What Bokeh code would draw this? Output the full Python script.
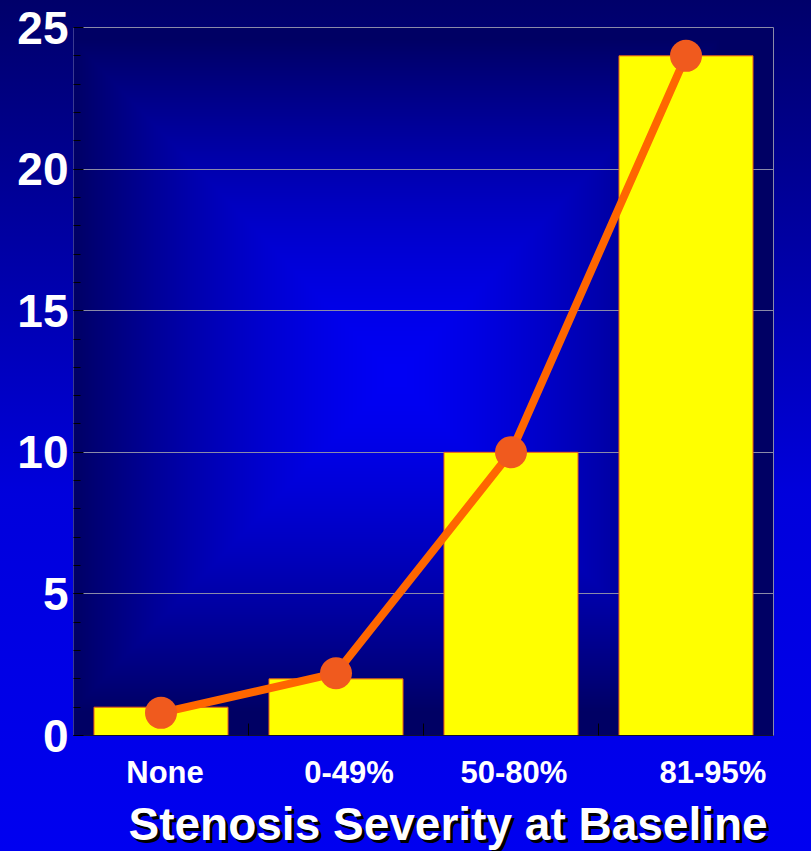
import numpy as np
from bokeh.plotting import figure
from bokeh.models import (Range1d, FixedTicker, SingleIntervalTicker, LinearAxis,
                          CustomJSTickFormatter, Label)
from bokeh.embed import file_html
from bokeh.resources import INLINE

# ---- data ----
categories = ["None", "0-49%", "50-80%", "81-95%"]
bar_values = [1, 2, 10, 24]
line_values = [0.8, 2.2, 10, 24]
y_ticks = [0, 5, 10, 15, 20, 25]

# ---- styling ----
FONT = "Liberation Sans"
BAR_WIDTH = 0.766
LABEL_NUDGE_PX = [4, 13, 3, 27]      # small horizontal shifts of category labels
TOP_PX = 27                          # room above the value area for the top tick label
PLOT_W, PLOT_H = 700, 708            # pixel size of the value area (0..4, 0..25)
BELOW_PX = 116                       # room under the zero line for labels and title
Y_MAX = y_ticks[-1]
px_x = PLOT_W / len(categories)
px_y = PLOT_H / Y_MAX
EDGE = "#8a8aa8"

p = figure(width=811, height=851, output_backend="svg", toolbar_location=None,
           x_range=Range1d(0, len(categories)),
           y_range=Range1d(-BELOW_PX / px_y, Y_MAX),
           min_border_left=73, min_border_right=38, min_border_top=TOP_PX,
           min_border_bottom=0)

# the figure's own axes
xax = p.below[0]
yax = p.left[0]

# page background: vertical blue gradient behind the canvas
p.border_fill_alpha = 0
p.background_fill_alpha = 0
p.outline_line_color = None
p.styles = {"background": "linear-gradient(180deg, #00006a 0%, #0000a6 30%, "
                          "#0000dc 58%, #0000f0 100%)"}

# value area: rectangular "from centre" blue glow drawn as an RGBA image
xs = np.arange(PLOT_W) + 0.5
ys = np.arange(PLOT_H) + 0.5
X, Y = np.meshgrid(xs, ys)
cx, cy = 322.0, PLOT_H - 348.0
tx_ = (np.abs(X - cx) / 325.0) ** 1.5
ty_ = (np.abs(Y - cy) / 338.0) ** 1.5
t = np.clip(np.maximum(tx_, ty_), 0, 1)
blue = (100 + 145 * (1 - t)).astype(np.uint8)
rgba = np.zeros((PLOT_H, PLOT_W, 4), dtype=np.uint8)
rgba[..., 2] = blue
rgba[..., 3] = 255
img = rgba.view(dtype=np.uint32).reshape(PLOT_H, PLOT_W)
p.image_rgba(image=[img], x=0, y=0, dw=len(categories), dh=Y_MAX, level="image")

# grid
p.xgrid.visible = False
p.ygrid.grid_line_color = EDGE
p.ygrid.grid_line_width = 1
p.ygrid.bounds = (0, Y_MAX)

# y axis
yax.bounds = (0, Y_MAX)
yax.ticker = SingleIntervalTicker(interval=5, num_minor_ticks=5)
yax.axis_line_color = "#3a3a90"
yax.major_tick_in = 10
yax.major_tick_out = 0
yax.minor_tick_in = 7
yax.minor_tick_out = 0
yax.major_tick_line_color = "black"
yax.minor_tick_line_color = "black"
yax.major_label_text_color = "white"
yax.major_label_text_font = FONT
yax.major_label_text_font_style = "bold"
yax.major_label_text_font_size = "46px"
yax.major_label_standoff = 5

# x axis at zero: boundary ticks pointing in, category labels under each bar
centers = [i + 0.5 for i in range(len(categories))]
label_pos = [c + n / px_x for c, n in zip(centers, LABEL_NUDGE_PX)]
xax.fixed_location = 0
xax.ticker = FixedTicker(ticks=label_pos, minor_ticks=list(range(len(categories) + 1)))
xax.formatter = CustomJSTickFormatter(args=dict(labels=categories), code="return labels[index];")
xax.axis_line_color = "#101030"
xax.major_tick_in = 0
xax.major_tick_out = 0
xax.minor_tick_in = 12
xax.minor_tick_out = 0
xax.minor_tick_line_color = "black"
xax.major_label_text_color = "white"
xax.major_label_text_font = FONT
xax.major_label_text_font_style = "bold"
xax.major_label_text_font_size = "31px"
xax.major_label_standoff = 19

# top and right edges of the value area
edge_style = dict(ticker=FixedTicker(ticks=[]), axis_line_color=EDGE, axis_line_width=1,
                  major_tick_in=0, major_tick_out=0, minor_tick_in=0, minor_tick_out=0,
                  major_label_text_font_size="0px", major_label_standoff=0)
p.add_layout(LinearAxis(bounds=(0, Y_MAX), **edge_style), "right")
p.add_layout(LinearAxis(bounds=(0, len(categories)), **edge_style), "above")

# bars
p.vbar(x=centers, top=bar_values, width=BAR_WIDTH, bottom=0,
       fill_color="#ffff00", line_color="#e8581a", line_width=1)

# trend line with markers
p.line(x=centers, y=line_values, line_color="#ff6600", line_width=8)
p.scatter(x=centers, y=line_values, size=32, fill_color="#f05a1e", line_color=None)

# axis title with drop shadow
title_text = "Stenosis Severity at Baseline"
tx, ty = 55 / px_x, -88 / px_y
p.add_layout(Label(x=tx + 3 / px_x, y=ty - 3 / px_y, text=title_text,
                   text_font=FONT, text_font_style="bold", text_font_size="46px",
                   text_color="black", text_baseline="middle", text_align="left"))
p.add_layout(Label(x=tx, y=ty, text=title_text,
                   text_font=FONT, text_font_style="bold", text_font_size="46px",
                   text_color="white", text_baseline="middle", text_align="left"))

open("out.html", "w").write(file_html(p, INLINE))
